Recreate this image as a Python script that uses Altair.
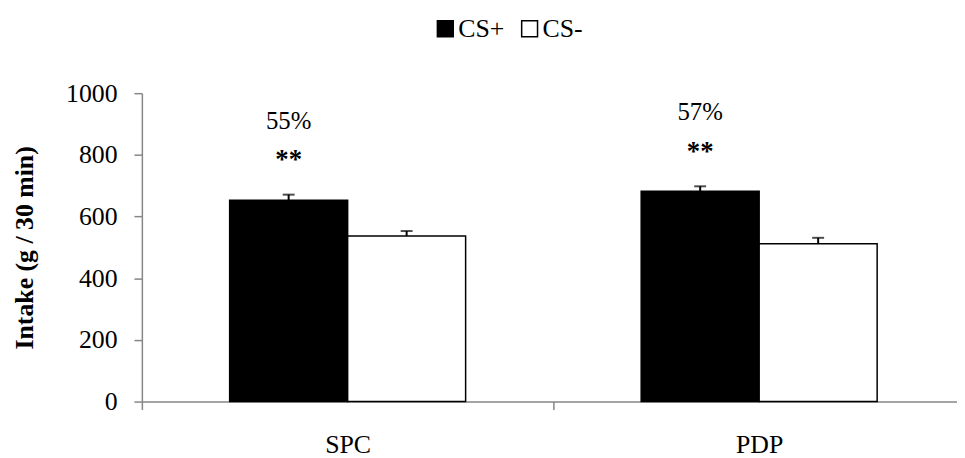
import altair as alt
import pandas as pd

categories = ["SPC", "PDP"]
series = ["CS+", "CS-"]
cs_plus = [653, 682]
cs_minus = [537, 512]
err_plus = [18, 16]
err_minus = [16, 19]
pct_labels = ["55%", "57%"]
sig_labels = ["**", "**"]
y_ticks = [0, 200, 400, 600, 800, 1000]

FONT = "Liberation Serif"
AXIS_GRAY = "#868686"

rows = []
for i, c in enumerate(categories):
    rows.append({"category": c, "series": "CS+", "value": cs_plus[i], "top": cs_plus[i] + err_plus[i]})
    rows.append({"category": c, "series": "CS-", "value": cs_minus[i], "top": cs_minus[i] + err_minus[i]})
df = pd.DataFrame(rows)

annot = pd.DataFrame({
    "category": categories,
    "series": ["CS+", "CS+"],
    "value": cs_plus,
    "pct": pct_labels,
    "sig": sig_labels,
})

x_enc = alt.X(
    "category:N",
    sort=categories,
    scale=alt.Scale(range=[0, 830], paddingInner=0, paddingOuter=0),
    axis=alt.Axis(
        title=None, labelFont=FONT, labelFontSize=26, labelColor="black", labelAngle=0,
        domainColor=AXIS_GRAY, domainWidth=1.5, tickColor=AXIS_GRAY, tickWidth=1.5,
        tickSize=8, tickBand="extent", labelPadding=22,
    ),
)
xo_enc = alt.XOffset("series:N", sort=series, scale=alt.Scale(paddingOuter=0.744, paddingInner=0))
y_scale = alt.Scale(domain=[0, 1000], nice=False)

bars = alt.Chart(df).mark_bar(stroke="black", strokeWidth=1.5).encode(
    x=x_enc,
    xOffset=xo_enc,
    y=alt.Y(
        "value:Q", scale=y_scale,
        axis=alt.Axis(
            values=y_ticks, format="d", title="Intake (g / 30 min)", titleFont=FONT, titleFontSize=26,
            titleFontWeight="bold", titleColor="black", labelFont=FONT, labelFontSize=26,
            labelColor="black", domainColor=AXIS_GRAY, domainWidth=1.5, tickColor=AXIS_GRAY,
            tickWidth=1.5, tickSize=8, labelPadding=17, titlePadding=28, grid=False,
        ),
    ),
    fill=alt.Fill(
        "series:N", sort=series,
        scale=alt.Scale(domain=series, range=["black", "white"]),
        legend=alt.Legend(
            orient="none", legendX=293, legendY=-78, direction="horizontal", title=None,
            symbolType="square", symbolSize=256, symbolStrokeColor="black",
            symbolStrokeWidth=1.5, labelFont=FONT, labelFontSize=26, labelColor="black",
            columnPadding=12, labelOffset=0, padding=0,
        ),
    ),
)

stems = alt.Chart(df).mark_rule(color="black", strokeWidth=2).encode(
    x=x_enc, xOffset=xo_enc, y=alt.Y("value:Q", scale=y_scale), y2="top:Q"
)
caps = alt.Chart(df).mark_tick(color="black", thickness=2, size=12).encode(
    x=x_enc, xOffset=xo_enc, y=alt.Y("top:Q", scale=y_scale)
)

pct_text = alt.Chart(annot).mark_text(font=FONT, fontSize=25, dy=-80, baseline="middle", color="black").encode(
    x=x_enc, xOffset=xo_enc, y=alt.Y("value:Q", scale=y_scale), text="pct:N"
)
sig_text = alt.Chart(annot).mark_text(font=FONT, fontSize=27, fontWeight="bold", dy=-40, baseline="middle", color="black").encode(
    x=x_enc, xOffset=xo_enc, y=alt.Y("value:Q", scale=y_scale), text="sig:N"
)

chart = alt.layer(bars, stems, caps, pct_text, sig_text).properties(
    width=822, height=311,
    padding={"left": 135, "top": 84, "right": 0, "bottom": 55},
    autosize=alt.AutoSizeParams(type="none"),
    background="white",
).configure_view(stroke=None)

chart.save("out.html", embed_options={"renderer": "svg", "actions": False})
